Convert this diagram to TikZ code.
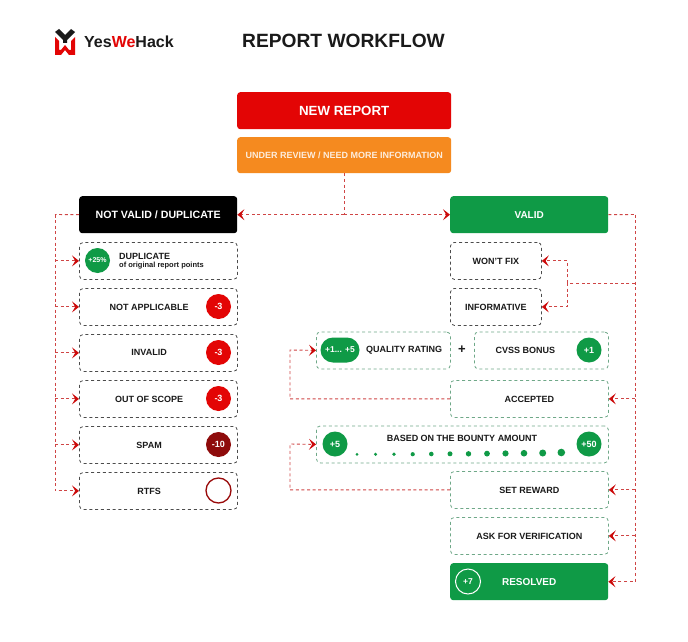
\documentclass[tikz,border=0pt]{standalone}
\usepackage{fontspec}
\setmainfont{Liberation Sans}
\usetikzlibrary{arrows.meta}
\definecolor{ywhred}{HTML}{E30505}
\definecolor{ywhdark}{HTML}{8E0B0B}
\definecolor{ywhorange}{HTML}{F58A1F}
\definecolor{ywhgreen}{HTML}{0F9A46}
\definecolor{ywhink}{HTML}{1A1A1A}
\definecolor{linkred}{HTML}{CF4545}
\definecolor{tipred}{HTML}{CC0A0A}
\definecolor{greendash}{HTML}{6FA888}
\tikzset{
 solidbox/.style={rounded corners=3pt,text=white,font=\bfseries\fontsize{10}{12}\selectfont,inner sep=0pt,anchor=north west},
 dashbox/.style={draw=#1,dash pattern=on 3pt off 2.8pt,line width=0.8pt,rounded corners=4pt,text=ywhink,font=\bfseries\fontsize{9}{11}\selectfont,inner sep=0pt,anchor=north west},
 dashbox/.default=black!70,
 badge/.style={circle,fill=#1,text=white,minimum size=25pt,inner sep=0pt,font=\bfseries\fontsize{9}{10}\selectfont},
 plaintext/.style={text=ywhink,font=\bfseries\fontsize{9}{11}\selectfont,inner sep=0pt},
 link/.style={draw=linkred,dash pattern=on 3pt off 2.6pt,line width=0.9pt},
 linkto/.style={link,-{Stealth[length=7pt,width=11pt,inset=3.2pt,color=tipred]}},
 greendot/.style={circle,fill=ywhgreen,inner sep=0pt,minimum size=#1}
}
\begin{document}
\begin{tikzpicture}[x=1pt,y=-1pt]
 \useasboundingbox[fill=white] (0,0) rectangle (688,642);
 % logo
 \fill[ywhink] (55,32)--(59,29)--(65,35)--(71,29)--(75,32)--(67,40)--(67,43)--(63,43)--(63,40)--cycle;
 \fill[ywhred] (55,37)--(59,41)--(59,50)--(61,50)--(65,45)--(69,50)--(71,50)--(71,41)--(75,37)--(75,55)--(69,55)--(65,50)--(61,55)--(55,55)--cycle;
 \node[inner sep=0pt,anchor=west,font=\bfseries\fontsize{16}{18}\selectfont,text=ywhink] (logotext) at (84,42) {Yes\textcolor{ywhred}{We}Hack};
 \node[inner sep=0pt,font=\bfseries\fontsize{19.2}{22}\selectfont,text=ywhink] (title) at (343.5,41) {REPORT WORKFLOW};
 % top
 \node[solidbox,fill=ywhred,minimum width=214pt,minimum height=37pt,font=\bfseries\fontsize{13.3}{16}\selectfont] (newreport) at (237,92) {NEW REPORT};
 \node[solidbox,fill=ywhorange,minimum width=214pt,minimum height=36pt,text=white!85!ywhorange,font=\bfseries\fontsize{9}{10}\selectfont] (review) at (237,137) {UNDER REVIEW / NEED MORE INFORMATION};
 \node[solidbox,fill=black,minimum width=158pt,minimum height=37pt,font=\bfseries\fontsize{10.6}{12}\selectfont] (notvalid) at (79,196) {NOT VALID / DUPLICATE};
 \node[solidbox,fill=ywhgreen,minimum width=158pt,minimum height=37pt] (valid) at (450,196) {VALID};
 % left
 \node[dashbox,minimum width=158pt,minimum height=37pt] (duplicate) at (79,242) {};
 \node[dashbox,minimum width=158pt,minimum height=37pt] (notapplicable) at (79,288) {\hspace{-18.6pt}NOT APPLICABLE};
 \node[dashbox,minimum width=158pt,minimum height=37pt] (invalid) at (79,334) {\hspace{-18.6pt}INVALID};
 \node[dashbox,minimum width=158pt,minimum height=37pt] (outofscope) at (79,380) {\hspace{-18.6pt}OUT OF SCOPE};
 \node[dashbox,minimum width=158pt,minimum height=37pt] (spam) at (79,426) {\hspace{-18.6pt}SPAM};
 \node[dashbox,minimum width=158pt,minimum height=37pt] (rtfs) at (79,472) {\hspace{-18.6pt}RTFS};
 \node[badge=ywhgreen,font=\bfseries\fontsize{7}{8}\selectfont] (badgedup) at (97.5,260.5) {+25\%};
 \node[plaintext,anchor=west] (duptext) at (119,256) {DUPLICATE};
 \node[plaintext,anchor=west,font=\bfseries\fontsize{7.5}{8}\selectfont] (dupsub) at (119,265.7) {of original report points};
 \node[badge=ywhred] (badgena) at (218.5,306.5) {-3};
 \node[badge=ywhred] (badgeinv) at (218.5,352.5) {-3};
 \node[badge=ywhred] (badgeoos) at (218.5,398.5) {-3};
 \node[badge=ywhdark] (badgespam) at (218.5,444.5) {-10};
 \node[circle,draw=ywhdark!90!red,line width=1.3pt,minimum size=25pt,inner sep=0pt] (badgertfs) at (218.5,490.5) {};
 % right
 \node[dashbox,minimum width=91pt,minimum height=37pt] (wontfix) at (450,242) {WON'T FIX};
 \node[dashbox,minimum width=91pt,minimum height=37pt] (informative) at (450,288) {INFORMATIVE};
 \node[dashbox=greendash,minimum width=134pt,minimum height=37pt] (quality) at (316,331.5) {};
 \node[dashbox=greendash,minimum width=134pt,minimum height=37pt] (cvss) at (474,331.5) {\hspace{-32pt}CVSS BONUS};
 \node[rounded corners=12.5pt,fill=ywhgreen,text=white,minimum width=39pt,minimum height=25pt,inner sep=0pt,font=\bfseries\fontsize{8.5}{10}\selectfont] (badgequal) at (340,350) {+1... +5};
 \node[plaintext,anchor=west] (qualtext) at (366,350) {QUALITY RATING};
 \node[inner sep=0pt,font=\bfseries\fontsize{13}{14}\selectfont,text=ywhink] (plus) at (462,350) {+};
 \node[badge=ywhgreen] (badgecvss) at (589,350) {+1};
 \node[dashbox=greendash,minimum width=158pt,minimum height=37pt] (accepted) at (450,380) {ACCEPTED};
 \node[dashbox=greendash,minimum width=292pt,minimum height=37pt] (bounty) at (316,425.5) {};
 \node[plaintext] (bountytext) at (462,438.5) {BASED ON THE BOUNTY AMOUNT};
 \node[badge=ywhgreen] (badgefive) at (335,444) {+5};
 \node[badge=ywhgreen] (badgefifty) at (589,444) {+50};
 \node[greendot=3pt] (dota) at (357,454.3) {};
 \node[greendot=3.4pt] (dotb) at (375.5,454.3) {};
 \node[greendot=3.8pt] (dotc) at (394,454.2) {};
 \node[greendot=4.2pt] (dotd) at (412.7,454.2) {};
 \node[greendot=4.6pt] (dote) at (431.3,454) {};
 \node[greendot=5pt] (dotf) at (450,453.8) {};
 \node[greendot=5.4pt] (dotg) at (468.5,453.8) {};
 \node[greendot=5.8pt] (doth) at (487,453.6) {};
 \node[greendot=6.2pt] (doti) at (505.5,453.4) {};
 \node[greendot=6.6pt] (dotj) at (524,453.2) {};
 \node[greendot=7pt] (dotk) at (542.7,453) {};
 \node[greendot=7.6pt] (dotl) at (561.3,452.5) {};
 \node[dashbox=greendash,minimum width=158pt,minimum height=37pt] (setreward) at (450,471) {SET REWARD};
 \node[dashbox=greendash,minimum width=158pt,minimum height=37pt] (askverif) at (450,517) {ASK FOR VERIFICATION};
 \node[solidbox,fill=ywhgreen,minimum width=158pt,minimum height=37pt] (resolved) at (450,563) {RESOLVED};
 \node[circle,draw=white,line width=1pt,text=white,minimum size=25pt,inner sep=0pt,font=\bfseries\fontsize{8.5}{10}\selectfont] (badgeres) at (468,581.5) {+7};
 % connectors
 \coordinate (lefttop) at (55,214.5);
 \coordinate (righttop) at (635,214.5);
 \coordinate (fork) at (567,283);
 \coordinate (forkr) at (635,283);
 \coordinate (split) at (review.south |- valid.west);
 \draw[link] (review.south) -- (split);
 \draw[linkto] (split) -- (notvalid.east);
 \draw[linkto] (split) -- (valid.west);
 \draw[link] (notvalid.west) -- (lefttop);
 \draw[linkto] (lefttop) |- (rtfs.west);
 \draw[linkto] (lefttop |- duplicate.west) -- (duplicate.west);
 \draw[linkto] (lefttop |- notapplicable.west) -- (notapplicable.west);
 \draw[linkto] (lefttop |- invalid.west) -- (invalid.west);
 \draw[linkto] (lefttop |- outofscope.west) -- (outofscope.west);
 \draw[linkto] (lefttop |- spam.west) -- (spam.west);
 \draw[link] (valid.east) -- (righttop);
 \draw[linkto] (righttop) |- (resolved.east);
 \draw[link] (forkr) -- (fork);
 \draw[linkto] (fork) |- (wontfix.east);
 \draw[linkto] (fork) |- (informative.east);
 \draw[linkto] (righttop |- accepted.east) -- (accepted.east);
 \draw[linkto] (righttop |- setreward.east) -- (setreward.east);
 \draw[linkto] (righttop |- askverif.east) -- (askverif.east);
 \coordinate (backq) at (290,350);
 \coordinate (backb) at (290,444);
 \draw[linkto] (accepted.west) -| (backq) -- (quality.west);
 \draw[linkto] (setreward.west) -| (backb) -- (bounty.west);
\end{tikzpicture}
\end{document}
